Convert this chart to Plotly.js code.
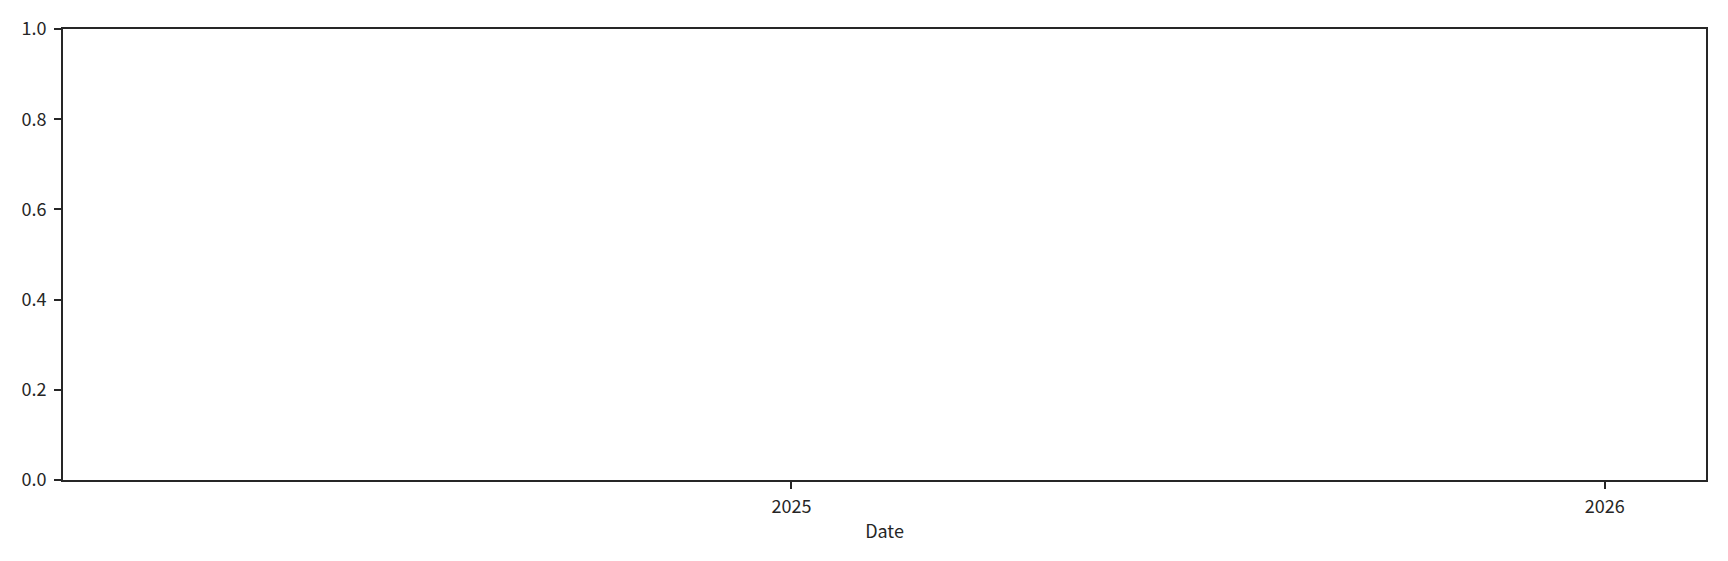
<!DOCTYPE html>
<html>
<head>
<meta charset="utf-8">
<script src="https://cdn.plot.ly/plotly-3.0.1.min.js"></script>
<style>html,body{margin:0;padding:0;background:#fff;}#chart{width:1728px;height:561px;}</style>
</head>
<body>
<div id="chart"></div>
<script>
// The reference chart has no plotted data: an empty date axis.
const dates = [];
const values = [];
const xTickVals = ['2025-01-01', '2026-01-01'];
const xTickText = ['2025', '2026'];
const yTickVals = [0, 0.2, 0.4, 0.6, 0.8, 1.0];
const xRange = ['2024-02-09 00:00', '2026-02-15 12:00'];
const yRange = [0, 1];

const ink = '#262626';
const fontFamily = '"Noto Sans CJK JP", "Noto Sans", sans-serif';

const trace = {x: dates, y: values, type: 'scatter', mode: 'lines', showlegend: false};

const layout = {
  width: 1728, height: 561,
  margin: {l: 63, r: 22, t: 29, b: 81, pad: 0},
  paper_bgcolor: '#ffffff', plot_bgcolor: '#ffffff',
  font: {family: fontFamily, size: 18, color: ink},
  showlegend: false,
  xaxis: {
    type: 'date', range: xRange, autorange: false,
    tickmode: 'array', tickvals: xTickVals, ticktext: xTickText,
    showgrid: false, zeroline: false,
    showline: true, linecolor: ink, linewidth: 2, mirror: true,
    ticks: 'outside', ticklen: 7, tickwidth: 2, tickcolor: ink,
    ticklabelstandoff: 2,
    tickfont: {family: fontFamily, size: 18, color: ink},
    title: {text: 'Date', font: {family: fontFamily, size: 18, color: ink}, standoff: 9}
  },
  yaxis: {
    range: yRange, autorange: false,
    tickmode: 'array', tickvals: yTickVals, tickformat: '.1f',
    showgrid: false, zeroline: false,
    showline: true, linecolor: ink, linewidth: 2, mirror: true,
    ticks: 'outside', ticklen: 7, tickwidth: 2, tickcolor: ink,
    ticklabelstandoff: 4,
    tickfont: {family: fontFamily, size: 18, color: ink}
  }
};

Plotly.newPlot('chart', [trace], layout, {displayModeBar: false, staticPlot: true});
</script>
</body>
</html>
